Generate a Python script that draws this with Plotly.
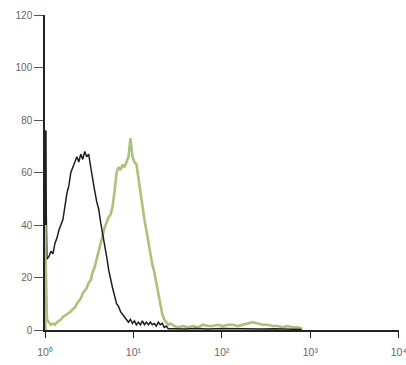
import plotly.graph_objects as go

# Decade exponents (log10 of fluorescence intensity) and counts
black_first_bin = 76
black_exp = [0.022,0.045,0.067,0.090,0.112,0.135,0.157,0.180,0.202,0.225,0.247,0.270,0.292,0.315,0.337,0.360,0.382,0.404,0.427,0.449,0.472,0.494,0.517,0.539,0.562,0.584,0.607,0.629,0.652,0.674,0.697,0.719,0.742,0.764,0.787,0.809,0.831,0.854,0.876,0.899,0.921,0.944,0.966,0.989,1.011,1.034,1.056,1.079,1.101,1.124,1.146,1.169,1.191,1.213,1.236,1.258,1.281,1.303,1.326,1.348,1.371,1.393,1.47,1.58,1.70,1.85,2.0,2.15,2.3,2.45,2.6,2.75,2.9]
black_cnt = [27,28,30,29,33,35,38,40,42,47,52,55,60,62,64,66,64,67,65,68,66,67,62,57,53,49,46,41,37,32,28,23,19,16,13,10,9,7,6,5,4,3,4,2.5,3.5,2,3,2,3.5,2,3,2,3,2,2.5,1.5,3,2,2.5,1,1.5,0.5,0.5,0.4,0.6,0.4,0.6,0.5,0.6,0.4,0.5,0.4,0.2]

green_first_bin = 40
green_exp = [0.022,0.045,0.067,0.090,0.112,0.135,0.157,0.180,0.202,0.225,0.247,0.270,0.292,0.315,0.337,0.360,0.382,0.404,0.427,0.449,0.472,0.494,0.517,0.539,0.562,0.584,0.607,0.629,0.652,0.674,0.697,0.719,0.742,0.764,0.787,0.809,0.831,0.854,0.876,0.899,0.921,0.944,0.966,0.989,1.011,1.034,1.056,1.079,1.101,1.124,1.146,1.169,1.191,1.213,1.236,1.258,1.281,1.303,1.326,1.348,1.371,1.393,1.416,1.461,1.506,1.562,1.618,1.674,1.73,1.787,1.843,1.899,1.955,2.011,2.067,2.124,2.18,2.236,2.292,2.348,2.404,2.461,2.517,2.573,2.629,2.685,2.742,2.798,2.854,2.91]
green_cnt = [4,3,2,2.5,2,3,3.5,4,5,5.5,6,6.5,7,8,8.5,10,11,12,14,15,16,18,19,22,24,27,30,33,37,39,41,43,44,47,53,60,62,61,63,62,64,66,73,66,64,63,58,52,46,42,38,33,29,25,22,18,13,9,6,4,3,2,2.5,1.5,1,1.5,1,1.5,1,2,1.5,1.5,2,1.5,2,2,1.5,2,2.5,3,2.5,2,2,1.5,1.5,1,1.5,1,1,0.5,0.3]

tick_vals = [1, 10, 100, 1000, 10000]
tick_text = ["10⁰", "10¹", "10²", "10³", "10⁴"]
y_ticks = [0, 20, 40, 60, 80, 100, 120]

green_color = "#adc07c"
black_color = "#1e1e1e"

fig = go.Figure()
# green histogram
fig.add_trace(go.Scatter(
    x=[1.0, 1.0] + [10 ** e for e in green_exp],
    y=[0, green_first_bin] + green_cnt,
    mode="lines", line=dict(color=green_color, width=2.6),
    showlegend=False, hoverinfo="skip"))
# black histogram
fig.add_trace(go.Scatter(
    x=[1.0, 1.0] + [10 ** e for e in black_exp],
    y=[0, black_first_bin] + black_cnt,
    mode="lines", line=dict(color=black_color, width=1.5),
    showlegend=False, hoverinfo="skip"))
# thick first-bin bars
fig.add_trace(go.Scatter(
    x=[1.006, 1.006], y=[0, green_first_bin],
    mode="lines", line=dict(color=green_color, width=3),
    showlegend=False, hoverinfo="skip"))
fig.add_trace(go.Scatter(
    x=[1.006, 1.006], y=[green_first_bin, black_first_bin],
    mode="lines", line=dict(color=black_color, width=3),
    showlegend=False, hoverinfo="skip"))

fig.update_layout(
    width=406, height=365,
    margin=dict(l=45, r=7, t=15, b=35),
    paper_bgcolor="white", plot_bgcolor="white",
    font=dict(family="Liberation Sans, Arial, sans-serif", size=10, color="#666666"),
    xaxis=dict(type="log", range=[0, 4.002], tickvals=tick_vals, ticktext=tick_text,
               automargin=False, ticklabeloverflow="allow", ticklabelstandoff=6,
               showgrid=False, zeroline=False, showline=True, linecolor="#222222",
               linewidth=1.5, ticks="outside", ticklen=6, tickcolor="#222222",
               tickfont=dict(size=10.5, color="#666666")),
    yaxis=dict(range=[0, 120], tickvals=y_ticks, showgrid=False, zeroline=False,
               automargin=False,
               showline=True, linecolor="#222222", linewidth=1.5,
               ticks="outside", ticklen=9, tickcolor="#555555",
               tickfont=dict(size=10, color="#666666")),
)

fig.write_html("out.html", config={"displayModeBar": False},
               post_script="document.body.style.margin='0px';document.body.style.overflow='hidden';")
